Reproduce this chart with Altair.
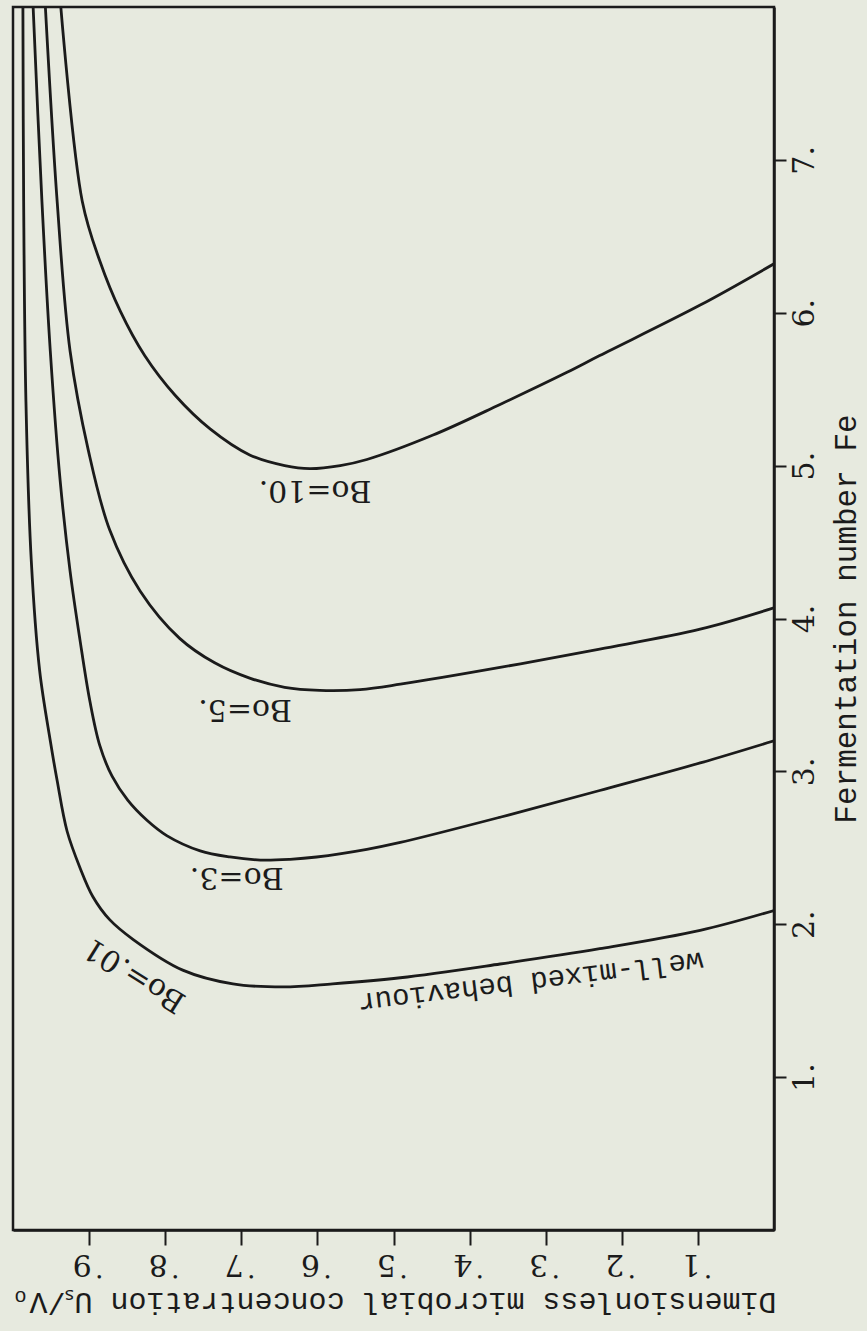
import altair as alt
import pandas as pd

# Curves: dimensionless microbial concentration (conc) vs fermentation number Fe
conc_bo001 = [0.987, 0.986, 0.983, 0.976, 0.965, 0.951, 0.942, 0.929, 0.912, 0.895, 0.873, 0.842, 0.777, 0.711, 0.645, 0.580, 0.491, 0.360, 0.229, 0.097, 0.0]
fe_bo001 = [8.05, 6.73, 5.42, 4.38, 3.66, 3.20, 2.94, 2.61, 2.37, 2.18, 2.03, 1.90, 1.70, 1.61, 1.59, 1.61, 1.65, 1.74, 1.84, 1.96, 2.09]

conc_bo3 = [0.974, 0.962, 0.951, 0.938, 0.925, 0.912, 0.899, 0.886, 0.870, 0.849, 0.824, 0.798, 0.754, 0.715, 0.675, 0.636, 0.601, 0.535, 0.491, 0.360, 0.229, 0.097, 0.0]
fe_bo3 = [8.05, 6.73, 5.75, 4.90, 4.31, 3.86, 3.46, 3.17, 2.97, 2.81, 2.68, 2.58, 2.48, 2.44, 2.42, 2.425, 2.44, 2.49, 2.535, 2.70, 2.875, 3.055, 3.20]

conc_bo5 = [0.958, 0.942, 0.925, 0.901, 0.873, 0.833, 0.781, 0.735, 0.689, 0.643, 0.597, 0.544, 0.491, 0.360, 0.229, 0.097, 0.0]
fe_bo5 = [8.05, 6.73, 5.75, 5.10, 4.58, 4.18, 3.87, 3.71, 3.61, 3.55, 3.53, 3.535, 3.57, 3.68, 3.80, 3.93, 4.07]

conc_bo10 = [0.938, 0.909, 0.886, 0.859, 0.827, 0.787, 0.741, 0.689, 0.643, 0.610, 0.570, 0.535, 0.448, 0.360, 0.272, 0.229, 0.097, 0.0]
fe_bo10 = [8.05, 6.73, 6.34, 6.01, 5.72, 5.46, 5.24, 5.07, 5.00, 4.98, 5.00, 5.04, 5.20, 5.40, 5.61, 5.72, 6.05, 6.32]

conc_ticks = [0.1, 0.2, 0.3, 0.4, 0.5, 0.6, 0.7, 0.8, 0.9]
fe_ticks = [1, 2, 3, 4, 5, 6, 7]

# Curve labels
bo_label_text = ["Bo=10.", "Bo=5.", "Bo=3.", "Bo=.01"]
bo_label_conc = [0.603, 0.695, 0.706, 0.840]
bo_label_fe = [4.84, 3.41, 2.31, 1.67]
bo_label_angle = [180, 180, 180, 212]

wm_text = ["well-mixed  behaviour"]
wm_conc = [0.320]
wm_fe = [1.62]
wm_angle = [173]

rows = []
for name, cs, fs in [("Bo=.01", conc_bo001, fe_bo001), ("Bo=3", conc_bo3, fe_bo3),
                     ("Bo=5", conc_bo5, fe_bo5), ("Bo=10", conc_bo10, fe_bo10)]:
    for i, (c, f) in enumerate(zip(cs, fs)):
        rows.append({"curve": name, "conc": c, "fe": f, "i": i})
df = pd.DataFrame(rows)

lab_df = pd.DataFrame({"text": bo_label_text, "conc": bo_label_conc, "fe": bo_label_fe, "ang": bo_label_angle})
wm_df = pd.DataFrame({"text": wm_text, "conc": wm_conc, "fe": wm_fe, "ang": wm_angle})

INK = "#1b1b1b"
x_scale = alt.Scale(domain=[0, 1], reverse=True, nice=False, zero=False)
y_scale = alt.Scale(domain=[0, 8], nice=False, zero=False)

x_enc = alt.X("conc:Q", scale=x_scale, axis=alt.Axis(
    orient="bottom", values=conc_ticks,
    labelExpr="'˙' + format(round(datum.value * 10), 'd')",
    labelAngle=180, labelFont="DejaVu Serif", labelFontSize=30, labelColor=INK,
    labelPadding=3, tickSize=15, tickWidth=2, tickColor=INK, grid=False,
    domainColor=INK, domainWidth=2.5,
    title="Dimensionless microbial concentration Uₛ/Vₒ", titleAngle=180,
    titleBaseline="bottom",
    titleFont="Liberation Mono", titleFontSize=30, titleFontWeight="normal",
    titleColor=INK, titlePadding=8))

y_enc = alt.Y("fe:Q", scale=y_scale, axis=alt.Axis(
    orient="right", values=fe_ticks,
    labelExpr="format(datum.value, 'd') + '.'",
    labelAngle=270, labelFont="DejaVu Serif", labelFontSize=30, labelColor=INK,
    labelPadding=3, tickSize=12, tickWidth=2, tickColor=INK, grid=False,
    domainColor=INK, domainWidth=2.5,
    title="Fermentation number Fe", titleAngle=270, titleBaseline="top",
    titleFont="Liberation Mono", titleFontSize=31, titleFontWeight="normal",
    titleColor=INK, titlePadding=12))

lines = alt.Chart(df).mark_line(color=INK, strokeWidth=2.8, interpolate="catmull-rom", clip=True).encode(
    x=x_enc, y=y_enc, detail="curve:N", order="i:Q")

labels = alt.Chart(lab_df).mark_text(font="DejaVu Serif", fontSize=30, color=INK,
                                     align="center", baseline="middle").encode(
    x=alt.X("conc:Q", scale=x_scale), y=alt.Y("fe:Q", scale=y_scale),
    text="text:N", angle=alt.Angle("ang:Q", scale=None))

wm = alt.Chart(wm_df).mark_text(font="Liberation Mono", fontSize=29, color=INK,
                                align="center", baseline="middle").encode(
    x=alt.X("conc:Q", scale=x_scale), y=alt.Y("fe:Q", scale=y_scale),
    text="text:N", angle=alt.Angle("ang:Q", scale=None))

chart = alt.layer(lines, labels, wm).properties(
    width=761, height=1223,
    background="#e7eadf",
    autosize=alt.AutoSizeParams(type="none"),
    padding={"left": 13, "top": 7, "right": 93, "bottom": 101},
).configure_view(stroke=INK, strokeWidth=2.5)

chart.save("out.html", embed_options={"renderer": "svg", "actions": False})
